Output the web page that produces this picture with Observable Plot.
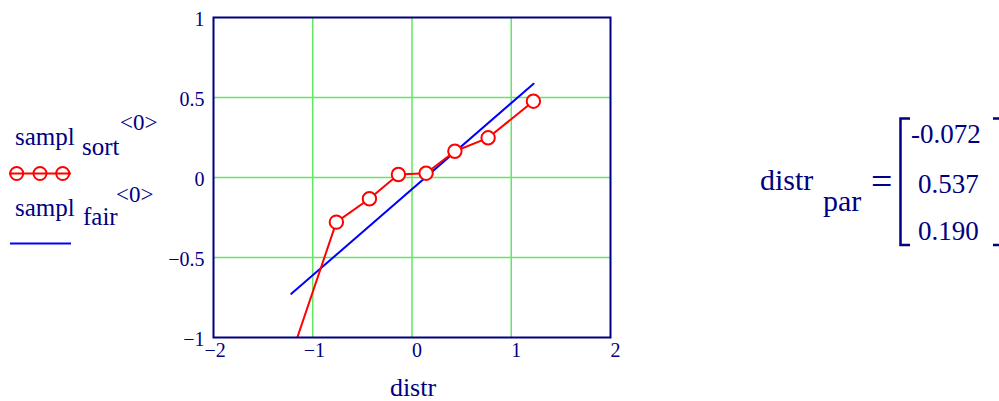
<!DOCTYPE html>
<html>
<head>
<meta charset="utf-8">
<script src="https://cdn.jsdelivr.net/npm/d3@7"></script>
<script src="https://cdn.jsdelivr.net/npm/@observablehq/plot@0.6"></script>
<style>
  html, body { margin: 0; padding: 0; background: #ffffff; }
  #chart svg { display: block; }
</style>
</head>
<body>
<div id="chart"></div>
<script>
// ---- data ----
const distrX = [-1.221, -0.762, -0.429, -0.137, 0.142, 0.432, 0.767, 1.223];
const samplSort = [-1.12, -0.279, -0.133, 0.019, 0.027, 0.164, 0.248, 0.477];
const fairX = [-1.216, 1.225];
const samplFair = [-0.727, 0.586];
const xTicks = [-2, -1, 0, 1, 2];
const yTicks = [-1, -0.5, 0, 0.5, 1];
const xGrid = [-1, 0, 1];
const yGrid = [-0.5, 0, 0.5];
const distrPar = ["-0.072", "0.537", "0.190"];

const navy = "#000080";
const green = "#62e862";
const red = "#ff0000";
const blue = "#0000ff";
const fmt = d => (d < 0 ? "\u2212" : "") + String(Math.abs(d));

const sortData = distrX.map((x, i) => ({x, y: samplSort[i]}));
const fairData = fairX.map((x, i) => ({x, y: samplFair[i]}));

const chart = Plot.plot({
  width: 999,
  height: 401,
  marginLeft: 213,
  marginRight: 389,
  marginTop: 17,
  marginBottom: 64,
  style: {fontFamily: "'Liberation Serif', 'Times New Roman', serif", background: "#ffffff", color: navy},
  x: {domain: [-2, 2]},
  y: {domain: [-1, 1]},
  marks: [
    Plot.gridX(xGrid, {stroke: green, strokeOpacity: 1, strokeWidth: 1.5}),
    Plot.gridY(yGrid, {stroke: green, strokeOpacity: 1, strokeWidth: 1.5}),
    Plot.line(fairData, {x: "x", y: "y", stroke: blue, strokeWidth: 2, clip: true}),
    Plot.line(sortData, {x: "x", y: "y", stroke: red, strokeWidth: 2, clip: true}),
    Plot.dot(sortData, {x: "x", y: "y", r: 6.7, stroke: red, fill: "#ffffff", strokeWidth: 2, clip: true}),
    Plot.frame({stroke: navy, strokeWidth: 2}),
    Plot.axisY(yTicks, {tickSize: 0, tickPadding: 9, fontSize: 20, fill: navy, tickFormat: fmt, dy: 2, label: null}),
    Plot.axisX(xTicks.filter(d => d < 0), {tickSize: 0, tickPadding: 5, fontSize: 20, fill: navy, tickFormat: fmt, textAnchor: "start", dx: -9, label: null}),
    Plot.axisX(xTicks.filter(d => d >= 0), {tickSize: 0, tickPadding: 5, fontSize: 20, fill: navy, tickFormat: fmt, textAnchor: "start", dx: 0, label: null})
  ]
});
document.getElementById("chart").appendChild(chart);

// ---- annotations: axis title, legend and the parameter matrix ----
const svg = d3.select(chart);
const g = svg.append("g").attr("font-family", "'Liberation Serif', 'Times New Roman', serif").attr("fill", navy);
function txt(x, y, s, size, anchor) {
  g.append("text").attr("x", x).attr("y", y).attr("font-size", size)
    .attr("text-anchor", anchor || "start").text(s);
}
// x axis title
txt(413, 396, "distr", 26, "middle");

// legend entry 1
txt(15, 145, "sampl", 25);
txt(82, 155, "sort", 25);
txt(120, 130, "<0>", 23);
g.append("line").attr("x1", 9).attr("x2", 71).attr("y1", 173.5).attr("y2", 173.5)
  .attr("stroke", red).attr("stroke-width", 2);
[16.7, 40, 62.7].forEach(cx => g.append("circle").attr("cx", cx).attr("cy", 173.5).attr("r", 6.5)
  .attr("fill", "none").attr("stroke", red).attr("stroke-width", 2));
// legend entry 2
txt(15, 216, "sampl", 25);
txt(83, 225, "fair", 25);
txt(116, 202, "<0>", 23);
g.append("line").attr("x1", 10).attr("x2", 71).attr("y1", 243.5).attr("y2", 243.5)
  .attr("stroke", blue).attr("stroke-width", 2);

// parameter matrix
txt(760, 190, "distr", 30);
txt(823, 211, "par", 30);
txt(871, 194, "=", 38);
g.append("path").attr("d", "M910,118.5H900.5V245H910").attr("fill", "none").attr("stroke", navy).attr("stroke-width", 2.5);
g.append("path").attr("d", "M993,118.5H1003V245H993").attr("fill", "none").attr("stroke", navy).attr("stroke-width", 2.5);
txt(911, 143, distrPar[0], 27);
txt(918, 193, distrPar[1], 27);
txt(918, 240, distrPar[2], 27);
</script>
</body>
</html>
